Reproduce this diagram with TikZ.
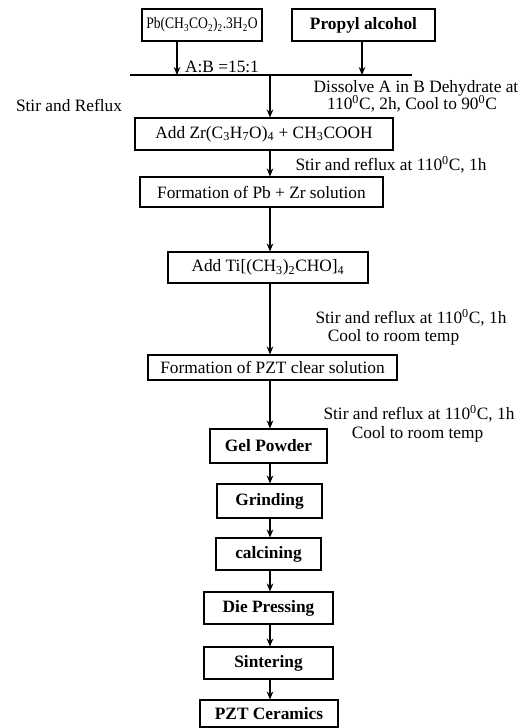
\documentclass[tikz,border=0pt]{standalone}
\usepackage{fontspec}
\usepackage{graphicx}
\setmainfont{Liberation Serif}
\usetikzlibrary{arrows.meta}
\newcommand\sbs[1]{\textsubscript{#1}}
\newcommand\sps[1]{\textsuperscript{#1}}
\begin{document}
\begin{tikzpicture}[x=0.75pt,y=-0.75pt,
  every node/.style={font=\fontsize{13}{15}\selectfont, inner sep=0pt},
  procbox/.style={draw, line width=0.8pt, rectangle, minimum height=#1*0.75pt},
  procbox/.default=32,
  flow/.style={line width=0.8pt, -{Stealth[length=6pt,width=5pt]}},
  plain/.style={line width=0.8pt}]
\useasboundingbox (0,0) rectangle (528,728);
% top boxes
\node[procbox, minimum width=120*0.75pt, font=\fontsize{12}{14}\selectfont] (pb) at (202,25) {\scalebox{0.85}[1]{Pb(CH\sbs{3}CO\sbs{2})\sbs{2}.3H\sbs{2}O}};
\node[procbox, minimum width=143*0.75pt] (prop) at (363.5,25) {\textbf{Propyl alcohol}};
% merge line
\coordinate (l0) at (130,75);
\coordinate (l1) at (412,75);
\coordinate (ma) at (177,75);
\coordinate (mb) at (362,75);
\coordinate (mc) at (270,75);
\draw[plain] (l0) -- (l1);
\draw[flow] (pb.south -| ma) -- (ma);
\draw[flow] (prop.south -| mb) -- (mb);
\node (ab) at (222,67) {A:B =15:1};
\node (dis1) at (416,88) {Dissolve A in B Dehydrate at};
\node (dis2) at (412,104) {110\sps{0}C, 2h, Cool to 90\sps{0}C};
\node (sr) at (69,105) {Stir and Reflux};
% chain
\node[procbox, minimum width=258*0.75pt] (zr) at (264,134) {Add Zr(C\sbs{3}H\sbs{7}O)\sbs{4} + CH\sbs{3}COOH};
\draw[flow] (mc) -- (zr.north -| mc);
\node[procbox=30, minimum width=243*0.75pt] (pbzr) at (261.5,192) {Formation of Pb + Zr solution};
\draw[flow] (zr.south -| mc) -- (pbzr.north -| mc);
\node (s1) at (391,165) {Stir and reflux at 110\sps{0}C, 1h};
\node[procbox=31, minimum width=200*0.75pt] (ti) at (268,267.5) {Add Ti[(CH\sbs{3})\sbs{2}CHO]\sbs{4}};
\draw[flow] (pbzr.south -| mc) -- (ti.north -| mc);
\node[procbox=25, minimum width=249*0.75pt] (pzt) at (272.5,367.5) {Formation of PZT clear solution};
\draw[flow] (ti.south -| mc) -- (pzt.north -| mc);
\node (s2a) at (411,318) {Stir and reflux at 110\sps{0}C, 1h};
\node (s2b) at (393.5,337) {Cool to room temp};
\node[procbox=34, minimum width=117*0.75pt] (gel) at (268.5,446) {\textbf{Gel Powder}};
\draw[flow] (pzt.south -| mc) -- (gel.north -| mc);
\node (s3a) at (419,414) {Stir and reflux at 110\sps{0}C, 1h};
\node (s3b) at (417.5,434) {Cool to room temp};
\node[procbox=34, minimum width=105*0.75pt] (grind) at (269.5,501) {\textbf{Grinding}};
\draw[flow] (gel.south -| mc) -- (grind.north -| mc);
\node[procbox=32, minimum width=105*0.75pt] (calc) at (268.5,554) {\textbf{calcining}};
\draw[flow] (grind.south -| mc) -- (calc.north -| mc);
\node[procbox=32, minimum width=129*0.75pt] (die) at (268.5,608) {\textbf{Die Pressing}};
\draw[flow] (calc.south -| mc) -- (die.north -| mc);
\node[procbox=32, minimum width=129*0.75pt] (sint) at (268.5,663) {\textbf{Sintering}};
\draw[flow] (die.south -| mc) -- (sint.north -| mc);
\node[procbox=27, minimum width=138*0.75pt] (cer) at (269,713.5) {\textbf{PZT Ceramics}};
\draw[flow] (sint.south -| mc) -- (cer.north -| mc);
\end{tikzpicture}
\end{document}
